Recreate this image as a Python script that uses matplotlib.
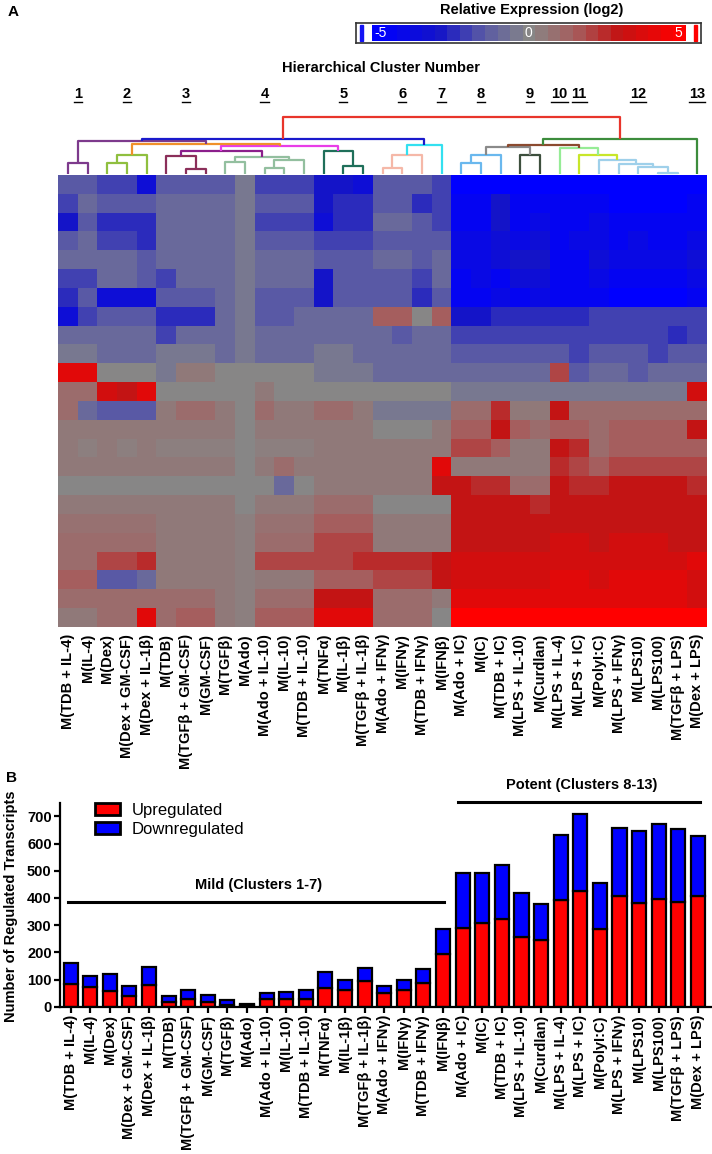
import matplotlib
matplotlib.use('Agg')
import matplotlib.pyplot as plt
import numpy as np
from matplotlib.colors import LinearSegmentedColormap
from matplotlib.patches import Patch, Rectangle
from matplotlib.lines import Line2D

plt.rcParams['font.family'] = ['Liberation Sans', 'DejaVu Sans']

# conditions, same order in heatmap and bar chart
labels = [
    'M(TDB + IL-4)', 'M(IL-4)', 'M(Dex)', 'M(Dex + GM-CSF)', 'M(Dex + IL-1β)',
    'M(TDB)', 'M(TGFβ + GM-CSF)', 'M(GM-CSF)', 'M(TGFβ)', 'M(Ado)',
    'M(Ado + IL-10)', 'M(IL-10)', 'M(TDB + IL-10)', 'M(TNFα)', 'M(IL-1β)',
    'M(TGFβ + IL-1β)', 'M(Ado + IFNγ)', 'M(IFNγ)', 'M(TDB + IFNγ)', 'M(IFNβ)',
    'M(Ado + IC)', 'M(IC)', 'M(TDB + IC)', 'M(LPS + IL-10)', 'M(Curdlan)',
    'M(LPS + IL-4)', 'M(LPS + IC)', 'M(PolyI:C)', 'M(LPS + IFNγ)', 'M(LPS10)',
    'M(LPS100)', 'M(TGFβ + LPS)', 'M(Dex + LPS)',
]
up = [83, 73, 58, 40, 80, 17, 28, 18, 8, 5, 27, 27, 27, 68, 63, 95, 51, 63, 86, 195,
      290, 308, 321, 255, 247, 392, 426, 287, 408, 381, 395, 385, 408]
down = [78, 41, 63, 35, 65, 23, 34, 25, 17, 6, 22, 28, 33, 60, 35, 48, 25, 35, 52, 92,
        201, 183, 201, 162, 132, 238, 283, 166, 250, 265, 277, 270, 220]
cluster_of = [1, 1, 2, 2, 2, 3, 3, 3, 4, 4, 4, 4, 4, 5, 5, 5, 6, 6, 6, 7,
              8, 8, 8, 9, 9, 10, 11, 12, 12, 12, 12, 12, 13]

# dendrogram merges: (left, right, height, colour); ints < 33 are leaves, 'mN' are merges
merges = {
    'm33': (0, 1, 10.8, '#7d3a8c'),
    'm34': (2, 3, 10.8, '#8fbf3f'),
    'm35': ('m34', 4, 18.5, '#8fbf3f'),
    'm36': (6, 7, 4.2, '#8b2f5a'),
    'm37': (5, 'm36', 17.5, '#8b2f5a'),
    'm38': (8, 9, 11.2, '#93bf9f'),
    'm39': (10, 11, 5.2, '#93bf9f'),
    'm40': ('m39', 12, 13.5, '#93bf9f'),
    'm41': ('m38', 'm40', 16.8, '#93bf9f'),
    'm42': ('m37', 'm41', 22.5, '#8b1f8b'),
    'm43': (14, 15, 7.5, '#1f6f5a'),
    'm44': (13, 'm43', 22.5, '#1f6f5a'),
    'm45': ('m42', 'm44', 27.5, '#e83de8'),
    'm46': ('m35', 'm45', 29.5, '#f0902a'),
    'm47': ('m33', 'm46', 32.8, '#7d3a8c'),
    'm48': (16, 17, 5.2, '#f5b8a8'),
    'm49': ('m48', 18, 18.5, '#f5b8a8'),
    'm50': ('m49', 19, 28.2, '#33e0f0'),
    'm51': ('m47', 'm50', 34.8, '#1a1acc'),
    'm52': (20, 21, 10.2, '#6ab8ee'),
    'm53': ('m52', 22, 18.5, '#6ab8ee'),
    'm54': (23, 24, 18.5, '#3d4f3d'),
    'm55': ('m53', 'm54', 26.8, '#8a8a8a'),
    'm56': (30, 31, 1.0, '#9fd0ea'),
    'm57': (29, 'm56', 6.8, '#9fd0ea'),
    'm58': (28, 'm57', 9.5, '#9fd0ea'),
    'm59': (27, 'm58', 13.5, '#9fd0ea'),
    'm60': (26, 'm59', 18.5, '#c8e62a'),
    'm61': (25, 'm60', 25.8, '#96ec96'),
    'm62': ('m55', 'm61', 28.2, '#8b4a2f'),
    'm63': ('m62', 32, 34.8, '#3c8c3c'),
    'm64': ('m51', 'm63', 56.2, '#e8352b'),
}

# relative expression (log2), coarse row bands read top to bottom, 33 columns each
heat = [
    [-1.5, -1.5, -2, -2, -3.5, -1.5, -1.5, -1.5, -1.5, -0.5, -2, -2, -2, -3, -3, -3.5, -1.5, -1.5, -1.5, -2,
     -5, -5, -5, -5, -5, -5, -5, -5, -5, -5, -5, -5, -5],
    [-2, -1, -1.5, -1.5, -1.5, -1, -1, -1, -1, -0.5, -1.5, -1.5, -1.5, -3, -2.5, -2.5, -1.5, -1.5, -2.5, -2,
     -4.5, -4.5, -3, -4.5, -4.5, -4.5, -4.5, -4.5, -5, -5, -5, -5, -4.5],
    [-3, -1.5, -2.5, -2.5, -2.5, -1, -1, -1, -1, -0.5, -2, -2, -2, -3.5, -2.5, -2.5, -1, -1, -1.5, -2,
     -4.5, -4.5, -3, -4.5, -4, -4.5, -4.5, -4, -4.5, -4.5, -4.5, -4.5, -4.5],
    [-1.5, -1, -2, -2, -2.5, -1, -1, -1, -1, -0.5, -1.5, -1.5, -1.5, -2, -2, -2, -1.5, -1.5, -1.5, -1.5,
     -4, -4, -3.5, -4, -3.5, -4.5, -4, -4, -4.5, -4, -4.5, -4.5, -4],
    [-1, -1, -1, -1, -1.5, -1, -1, -1, -1, -0.5, -1, -1, -1, -1.5, -1.5, -1.5, -1, -1, -1.5, -1,
     -4, -4, -3.5, -3, -3, -4.5, -4.5, -3.5, -4, -4, -4, -4, -3.5],
    [-2, -2, -1, -1, -1.5, -2, -1, -1, -1, -0.5, -1, -1, -1, -3, -1.5, -1.5, -1.5, -1.5, -2, -1,
     -4.5, -4, -4.5, -3.5, -3.5, -4.5, -4.5, -4, -4.5, -4.5, -4.5, -4.5, -4],
    [-2.5, -1.5, -3.5, -3.5, -3.5, -1.5, -1.5, -1.5, -1, -0.5, -1.5, -1.5, -1.5, -3, -1.5, -1.5, -1.5, -1.5, -2.5, -1.5,
     -4.5, -4.5, -4, -4.5, -4, -4.5, -4.5, -4.5, -5, -5, -5, -5, -4.5],
    [-3.5, -2, -1.5, -1.5, -1.5, -2.5, -2.5, -2.5, -1, -0.5, -1.5, -1.5, -1, -1, -1, -1, 1.5, 1.5, 0, 1.5,
     -3, -3, -2.5, -2.5, -2.5, -2.5, -2.5, -2, -2, -2, -2, -2, -2],
    [-1, -1, -1, -1, -1, -2, -1, -1, -1, -0.5, -1, -1, -1, -1, -1, -1, -1, -1.5, -1, -1,
     -2, -2, -2, -2, -2, -2, -2, -2, -2, -2, -2, -2.5, -2],
    [-0.5, -0.5, -1, -1, -1, -0.5, -0.5, -0.5, -1, -0.5, -1, -1, -1, -0.5, -0.5, -1, -1, -1, -1, -1,
     -1.5, -1.5, -1.5, -1.5, -1.5, -1.5, -2, -1.5, -1.5, -1.5, -2, -1.5, -1.5],
    [4, 4, 0, 0, 0, -0.5, 0.5, 0.5, 0, 0, 0, 0, 0, -0.5, -0.5, -0.5, -1, -1, -1, -1,
     -1, -1, -1, -1, -1, 2, -1.5, -1, -1, -1.5, -1, -1, -1],
    [1, 1, 3.5, 3, 4, 0, 0, 0, 0, 0, 0.5, 0, 0, 0, 0, 0, 0, 0, 0, 0,
     -0.5, -0.5, -0.5, -0.5, -0.5, -0.5, -0.5, -0.5, -0.5, -0.5, -0.5, -0.5, 3.5],
    [1, -1, -1.5, -1.5, -1.5, 0.5, 1, 1, 0.5, 0, 1, 0.5, 0.5, 1, 1, 0.5, -0.5, -0.5, -0.5, -0.5,
     1, 1, 2.5, 0.5, 0.5, 3, 1, 1, 1, 1, 1, 1, 1],
    [0.5, 0.5, 0.5, 0.5, 0.5, 0.5, 0.5, 0.5, 0.5, 0, 0.5, 0.5, 0.5, 0.5, 0.5, 0.5, 0, 0, 0, 0.5,
     1.5, 1.5, 3, 1.5, 1, 1.5, 1.5, 1, 1.5, 1.5, 1.5, 1.5, 3],
    [0.5, 0.3, 0.5, 0.3, 0.5, 0.3, 0.3, 0.3, 0.3, 0, 0.3, 0.3, 0.3, 0.5, 0.5, 0.5, 0.5, 0.5, 0.5, 0.5,
     2, 2, 1.5, 0.5, 0.5, 3, 2.5, 1, 1.5, 1.5, 1.5, 1.5, 1.5],
    [0.5, 0.5, 0.5, 0.5, 0.5, 0.5, 0.5, 0.5, 0.5, 0, 0.5, 1, 0.5, 0.5, 0.5, 0.5, 0.5, 0.5, 0.5, 4,
     0.5, 0.5, 0.5, 0.5, 0.5, 2.5, 2, 1.5, 2, 2, 2, 2, 2],
    [0, 0, 0, 0, 0, 0, 0, 0, 0, 0, 0, -1, 0, 0.5, 0.5, 0.5, 0.5, 0.5, 0.5, 3,
     3, 2.5, 2.5, 1, 1, 3, 2.5, 2.5, 3, 3, 3, 3, 2.5],
    [0.5, 0.5, 0.5, 0.5, 0.5, 0.5, 0.5, 0.5, 0.5, 0, 0.5, 0.5, 0.5, 1, 1, 1, 0, 0, 0, 0,
     3, 3, 3, 3, 2.5, 3, 3, 3, 3, 3, 3, 3, 3],
    [0.8, 0.8, 0.8, 0.8, 0.8, 0.5, 0.5, 0.5, 0.5, 0.3, 0.8, 0.8, 0.8, 1.5, 1.5, 1.5, 0.5, 0.5, 0.5, 0.5,
     3, 3, 3, 3, 3, 3, 3, 3, 3, 3, 3, 3, 3],
    [1, 1, 1, 1, 1, 0.5, 0.5, 0.5, 0.5, 0.3, 1, 1, 1, 2, 2, 2, 0.5, 0.5, 0.5, 0.5,
     3, 3, 3, 3, 3, 3.5, 3.5, 3, 3.5, 3.5, 3.5, 3, 3],
    [1, 1, 2, 2, 2.5, 0.5, 0.5, 0.5, 0.5, 0.3, 2, 2, 2, 2, 2, 2.5, 2.5, 2.5, 2.5, 3,
     3.5, 3.5, 3.5, 3.5, 3.5, 3.5, 3.5, 3.5, 3.5, 3.5, 3.5, 3.5, 4],
    [1.5, 1.5, -1.5, -1.5, -1, 0.5, 0.5, 0.5, 0.5, 0.3, 0.5, 0.5, 0.5, 1.5, 1.5, 1.5, 2, 2, 2, 3,
     3.5, 3.5, 3.5, 3.5, 3.5, 4, 4, 3.5, 4, 4, 4, 4, 3.5],
    [1, 1, 1, 1, 1, 1, 1, 1, 0.5, 0.3, 1, 1, 1, 3, 3, 3, 1, 1, 1, 0.5,
     4, 4, 4, 4, 4, 4, 4, 4, 4, 4, 4, 4, 3.5],
    [0.5, 0.5, 1, 1, 4, 1, 1.5, 1.5, 0.5, 0.3, 1.5, 1.5, 1.5, 4, 4, 4, 1, 1, 1, 0,
     5, 5, 5, 5, 5, 5, 5, 5, 5, 5, 5, 5, 5],
]

W, H = 712, 1154
fig = plt.figure(figsize=(W / 100, H / 100), dpi=100)


def box(x0, y0, x1, y1):
    # pixel box (top-left origin) -> figure fraction rect
    return [x0 / W, 1 - y1 / H, (x1 - x0) / W, (y1 - y0) / H]


cmap = LinearSegmentedColormap.from_list('expr', [
    (0.0, '#0000ff'), (0.2, '#1414c8'), (0.35, '#5a5aa5'), (0.5, '#878787'),
    (0.65, '#a55f5f'), (0.8, '#c31414'), (1.0, '#ff0000')])
n = len(labels)
x = np.arange(n)
bold = dict(fontweight='bold')

# ---- panel A: heatmap
ax_h = fig.add_axes(box(58, 175, 707, 627))
ax_h.imshow(np.array(heat), cmap=cmap, vmin=-5, vmax=5, aspect='auto',
            interpolation='nearest', extent=(-0.5, n - 0.5, len(heat) - 0.5, -0.5))
ax_h.set_xticks(x)
ax_h.set_xticklabels(labels, rotation=90, fontsize=10.5, **bold)
ax_h.set_yticks([])
ax_h.tick_params(axis='x', length=0, pad=5)
for s in ax_h.spines.values():
    s.set_visible(False)

# dendrogram
ax_d = fig.add_axes(box(58, 110, 707, 175))
pos = {i: (float(i), 0.0) for i in range(n)}
for name, (a, b, h, col) in merges.items():
    xa, ha = pos[a]
    xb, hb = pos[b]
    ax_d.plot([xa, xa, xb, xb], [ha, h, h, hb], color=col, lw=1.6, solid_capstyle='butt')
    pos[name] = ((xa + xb) / 2, h)
ax_d.set_xlim(-0.5, n - 0.5)
ax_d.set_ylim(-1.5, 63.5)
ax_d.axis('off')

# colour scale
ax_c = fig.add_axes(box(356, 23, 701, 43))
grad = np.linspace(-5, 5, 25)[None, :]
ax_c.imshow(grad, cmap=cmap, vmin=-5, vmax=5, aspect='auto', interpolation='nearest',
            extent=(0.045, 0.955, 0.1, 0.9))
ax_c.add_patch(Rectangle((0.012, 0.12), 0.008, 0.76, color='#1414f5'))
ax_c.add_patch(Rectangle((0.98, 0.12), 0.008, 0.76, color='#ff0000'))
ax_c.set_xlim(0, 1)
ax_c.set_ylim(0, 1)
ax_c.set_xticks([])
ax_c.set_yticks([])
for s in ax_c.spines.values():
    s.set_linewidth(1.2)
    s.set_color('#333333')
for v in [-5, 0, 5]:
    ax_c.text(0.045 + 0.91 * (v + 5) / 10 + (0.025 if v < 0 else -0.02 if v > 0 else 0), 0.48, str(v),
              color='white', fontsize=10, ha='center', va='center')

fig.text(8 / W, 1 - 12 / H, 'A', fontsize=11, va='center', **bold)
fig.text(532 / W, 1 - 10 / H, 'Relative Expression (log2)', fontsize=10.5, ha='center', va='center', **bold)
fig.text(381 / W, 1 - 68 / H, 'Hierarchical Cluster Number', fontsize=10.5, ha='center', va='center', **bold)

num_texts = []
for c in range(1, 14):
    cols = [i for i, k in enumerate(cluster_of) if k == c]
    cx = 58 + (np.mean(cols) + 0.5) * 649 / n
    num_texts.append(fig.text(cx / W, 1 - 94 / H, str(c), fontsize=10.5, ha='center', va='center', **bold))

# ---- panel B: stacked bars
ax_b = fig.add_axes(box(60, 802.7, 712, 1006.7))
ax_b.bar(x, up, width=0.72, color='#ff0000', edgecolor='black', linewidth=1.6, label='Upregulated')
ax_b.bar(x, down, width=0.72, bottom=up, color='#0000ff', edgecolor='black', linewidth=1.6,
         label='Downregulated')
ax_b.set_xlim(-0.54, 32.72)
ax_b.set_ylim(0, 750)
ax_b.set_yticks(range(0, 800, 100))
ax_b.set_yticklabels([str(v) for v in range(0, 800, 100)], fontsize=10.5, **bold)
ax_b.set_xticks(x)
ax_b.set_xticklabels(labels, rotation=90, fontsize=10.5, **bold)
ax_b.tick_params(length=4, width=1.6, pad=2)
for s in ['top', 'right']:
    ax_b.spines[s].set_visible(False)
for s in ['left', 'bottom']:
    ax_b.spines[s].set_linewidth(1.6)
ax_b.set_ylabel('Number of Regulated Transcripts', fontsize=10.5, **bold)
ax_b.yaxis.set_label_coords((18 - 60) / 652, 0.49)

ax_b.plot([-0.15, 19.05], [385, 385], color='black', lw=2.2, clip_on=False)
ax_b.text(9.57, 420, 'Mild (Clusters 1-7)', ha='center', va='bottom', fontsize=10.5, **bold)
ax_b.plot([19.75, 32.1], [754, 754], color='black', lw=2.2, clip_on=False)
ax_b.text(26.05, 790, 'Potent (Clusters 8-13)', ha='center', va='bottom', fontsize=10.5, **bold,
          clip_on=False)

handles = [Patch(facecolor='#ff0000', edgecolor='black', linewidth=2, label='Upregulated'),
           Patch(facecolor='#0000ff', edgecolor='black', linewidth=2, label='Downregulated')]
ax_b.legend(handles=handles, loc='upper left', bbox_to_anchor=((95 - 60) / 652, 1.0), frameon=False,
            fontsize=12, handlelength=1.5, handleheight=0.75, labelspacing=0.25, handletextpad=0.7,
            borderaxespad=0, borderpad=0)

fig.text(6 / W, 1 - 778 / H, 'B', fontsize=11, va='center', **bold)

# underline cluster numbers
fig.canvas.draw()
inv = fig.transFigure.inverted()
for t in num_texts:
    bb = t.get_window_extent()
    (x0, y0), (x1, _) = inv.transform([(bb.x0, bb.y0 - 1), (bb.x1, bb.y0 - 1)])
    fig.add_artist(Line2D([x0, x1], [y0, y0], color='black', lw=1.0, transform=fig.transFigure))

fig.savefig('out.png', dpi=100)
